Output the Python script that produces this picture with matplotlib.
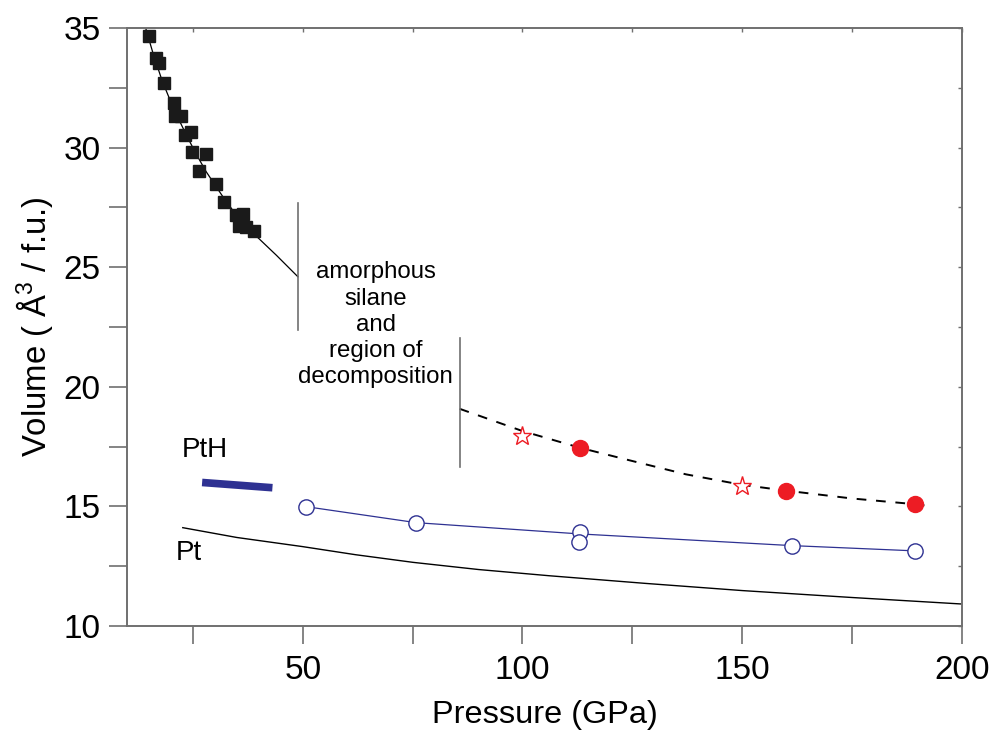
import matplotlib
matplotlib.use("Agg")
import matplotlib.pyplot as plt
from matplotlib.ticker import MultipleLocator

fuente = "Liberation Sans"
plt.rcParams['font.family'] = [fuente, 'DejaVu Sans']
plt.rcParams['mathtext.fontset'] = 'custom'
plt.rcParams['mathtext.rm'] = fuente

# silano amorfo (cuadrados negros)
p_silano = [15.07, 16.59, 17.27, 18.48, 20.75, 20.91, 22.27, 23.25, 24.48, 24.77,
            27.89, 26.43, 30.30, 32.05, 34.70, 36.30, 35.45, 37.20, 38.86]
v_silano = [34.65, 33.73, 33.55, 32.69, 31.85, 31.33, 31.32, 30.53, 30.64, 29.80,
            29.72, 29.03, 28.49, 27.74, 27.18, 27.21, 26.72, 26.69, 26.51]

# ajuste del silano
p_ajuste = [14.1, 16, 18, 20, 22, 24, 26, 28, 30, 32, 34, 36, 38, 40, 44, 48.9]
v_ajuste = [35.1, 33.9, 32.8, 31.9, 31.1, 30.35, 29.65, 29.0, 28.45, 27.9, 27.4,
            26.95, 26.55, 26.2, 25.5, 24.6]

# fase de alta presion (puntos rojos, estrellas y curva discontinua)
p_rojo = [113.1, 159.9, 189.4]
v_rojo = [17.45, 15.66, 15.09]
p_estrella = [100, 150]
v_estrella = [17.94, 15.85]
p_curva = [85.7, 100, 113.1, 123.4, 137.2, 150, 159.9, 175, 189.4, 193.3]
v_curva = [19.08, 18.15, 17.45, 16.97, 16.34, 15.9, 15.66, 15.33, 15.09, 15.0]

# PtH (circulos azules)
p_pth = [50.7, 75.8, 113.0, 112.8, 161.3, 189.3]
v_pth = [14.99, 14.32, 13.92, 13.53, 13.36, 13.14]
p_pth_linea = [50.7, 75.8, 112.9, 161.3, 189.3]
v_pth_linea = [14.99, 14.32, 13.85, 13.36, 13.14]
p_pth_barra = [27.1, 43.1]
v_pth_barra = [16.0, 15.78]

# Pt
p_pt = [22.7, 35, 49.9, 62, 75.1, 90, 106.1, 128, 150, 175, 199.8]
v_pt = [14.11, 13.7, 13.32, 12.98, 12.66, 12.36, 12.1, 11.78, 11.48, 11.19, 10.92]

# limites de la region de descomposicion
p_limite = [48.9, 85.7]
v_limite_bajo = [22.37, 16.66]
v_limite_alto = [27.68, 22.03]

azul = '#2e3192'
rojo = '#ed1c24'
gris = '#707070'

fig = plt.figure(figsize=(9.95, 7.38), dpi=100)
ax = fig.add_axes([0.1276, 0.1518, 0.8392, 0.8102])

ax.plot(p_pt, v_pt, color='black', lw=1.0)
ax.plot(p_pth_barra, v_pth_barra, color=azul, lw=5.5, solid_capstyle='butt')
ax.plot(p_pth_linea, v_pth_linea, color=azul, lw=0.9)
ax.plot(p_pth, v_pth, 'o', ms=11, mfc='white', mec=azul, mew=1.0, zorder=4)
ax.plot(p_curva, v_curva, color='black', lw=1.4, dashes=(5, 5))
ax.plot(p_rojo, v_rojo, 'o', ms=11.5, color=rojo, mec=rojo, zorder=4)
ax.plot(p_estrella, v_estrella, '*', ms=14, mfc='white', mec=rojo, mew=1.0, zorder=4)
ax.plot(p_ajuste, v_ajuste, color='black', lw=0.9)
ax.plot(p_silano, v_silano, 's', ms=8, color='#1a1a1a', zorder=4)
for p, lo, hi in zip(p_limite, v_limite_bajo, v_limite_alto):
    ax.plot([p, p], [lo, hi], color=gris, lw=1.2)

ax.text(66.6, 22.6, 'amorphous\nsilane\nand\nregion of\ndecomposition',
        ha='center', va='center', fontsize=17.3, linespacing=1.24)
ax.text(27.7, 17.35, 'PtH', ha='center', va='center', fontsize=20)
ax.text(24.1, 13.05, 'Pt', ha='center', va='center', fontsize=20)

ax.set_xlim(10, 200)
ax.set_ylim(10, 35)
ax.xaxis.set_major_locator(MultipleLocator(50))
ax.xaxis.set_minor_locator(MultipleLocator(25))
ax.yaxis.set_major_locator(MultipleLocator(5))
ax.yaxis.set_minor_locator(MultipleLocator(2.5))
ax.tick_params(which='both', direction='out', length=13, width=1.2, color=gris,
               labelsize=24, pad=6, top=False, right=False)
ax.tick_params(axis='x', which='both', pad=8)
for s in ax.spines.values():
    s.set_color(gris)
    s.set_linewidth(1.4)

# ticks cortos hacia dentro en los ejes superior y derecho
ax2 = ax.twinx()
ax2.set_ylim(10, 35)
ax2.yaxis.set_major_locator(MultipleLocator(2.5))
ax2.tick_params(direction='in', length=3, width=1, color=gris, labelright=False)
ax3 = ax.twiny()
ax3.set_xlim(10, 200)
ax3.xaxis.set_major_locator(MultipleLocator(25))
ax3.tick_params(direction='in', length=3, width=1, color=gris, labeltop=False)
for a in (ax2, ax3):
    for s in a.spines.values():
        s.set_visible(False)

ax.set_xlabel('Pressure (GPa)', fontsize=23.4, labelpad=10)
ax.set_ylabel('Volume ( Å$^3$ / f.u.)', fontsize=23.7, labelpad=5)

fig.savefig('out.png', dpi=100)
